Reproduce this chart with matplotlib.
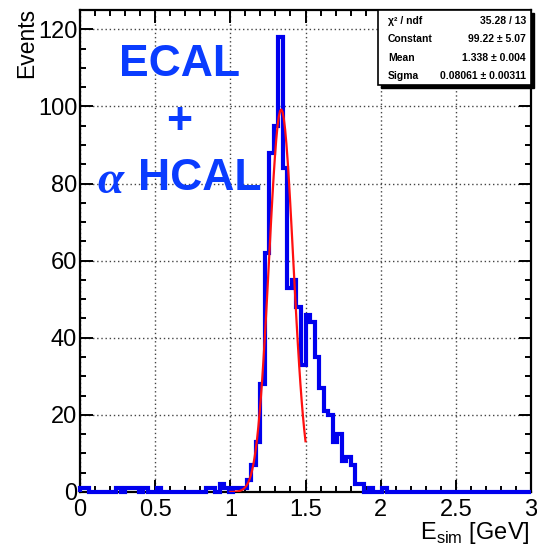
import matplotlib
matplotlib.use("Agg")
import matplotlib.pyplot as plt
import numpy as np
from matplotlib.patches import Rectangle
from matplotlib.ticker import MultipleLocator

plt.rcParams["font.family"] = ["Liberation Sans", "DejaVu Sans"]
plt.rcParams["mathtext.fontset"] = "custom"
plt.rcParams["mathtext.rm"] = "Liberation Sans"

# histogram: 100 bins from 0 to 3 GeV
x_min, x_max, n_bins = 0.0, 3.0, 100
counts = [
    1, 1, 0, 0, 0, 0, 0, 0, 1, 0,
    1, 1, 1, 0, 1, 0, 0, 1, 0, 0,
    0, 0, 0, 0, 0, 0, 0, 0, 1, 1,
    0, 2, 1, 0, 1, 1, 1, 3, 7, 13,
    28, 62, 88, 95, 118, 84, 53, 55, 48, 33,
    46, 44, 35, 27, 21, 20, 13, 15, 8, 9,
    7, 2, 2, 0, 1, 0, 0, 1, 0, 0,
    0, 0, 0, 0, 0, 0, 0, 0, 0, 0,
    0, 0, 0, 0, 0, 0, 0, 0, 0, 0,
    0, 0, 0, 0, 0, 0, 0, 0, 0, 0,
]

# gaussian fit result
fit_const, fit_mean, fit_sigma = 99.22, 1.338, 0.08061
fit_range = (1.0, 1.5)

stats_rows = [
    ("\u03c7\u00b2 / ndf", "35.28 / 13"),
    ("Constant", "99.22 \u00b1 5.07"),
    ("Mean", "1.338 \u00b1 0.004"),
    ("Sigma", "0.08061 \u00b1 0.00311"),
]

W, H = 537, 546
fig = plt.figure(figsize=(W / 100, H / 100), dpi=100)
ax = fig.add_axes([80 / W, 1 - 492 / H, 451 / W, 482 / H])

edges = np.linspace(x_min, x_max, n_bins + 1)
ax.stairs(counts, edges, color="#0000ee", lw=3.0, zorder=3, clip_on=False)

xf = np.linspace(fit_range[0], fit_range[1], 60)
yf = fit_const * np.exp(-0.5 * ((xf - fit_mean) / fit_sigma) ** 2)
ax.plot(xf, yf, color="#ff1010", lw=1.6, zorder=4)

ax.set_xlim(0, 3)
ax.set_ylim(0, 125)
ax.xaxis.set_major_locator(MultipleLocator(0.5))
ax.xaxis.set_minor_locator(MultipleLocator(0.1))
ax.yaxis.set_major_locator(MultipleLocator(20))
ax.yaxis.set_minor_locator(MultipleLocator(5))
ax.set_xticks([0, 0.5, 1, 1.5, 2, 2.5, 3], ["0", "0.5", "1", "1.5", "2", "2.5", "3"])
ax.tick_params(which="both", direction="in", top=True, right=True, width=1.4,
               labelsize=17)
ax.tick_params(which="major", length=9)
ax.tick_params(which="minor", length=4.5)
ax.tick_params(axis="y", pad=2)
ax.tick_params(axis="x", pad=5)
for s in ax.spines.values():
    s.set_linewidth(1.6)
ax.grid(True, which="major", color="#444444", ls=(0, (1, 2)), lw=1.0)

fig.text(27 / W, 1 - 8 / H, "Events", rotation=90, ha="center", va="top",
         fontsize=16.5)
fig.text(530 / W, 1 - 546 / H, r"E$_{\rm sim}$ [GeV]", ha="right",
         va="bottom", fontsize=17)

blue = "#0a3cff"
fig.text(180 / W, 1 - 64 / H, "ECAL", color=blue, fontsize=32,
         fontweight="bold", ha="center", va="center")
fig.text(179 / W, 1 - 123 / H, "+", color=blue, fontsize=32,
         fontweight="bold", ha="center", va="center")
fig.text(200 / W, 1 - 179 / H, "HCAL", color=blue, fontsize=32,
         fontweight="bold", ha="center", va="center")
fig.text(110 / W, 1 - 182 / H, "\u03b1", color=blue, fontsize=34,
         family=["Liberation Serif", "DejaVu Serif"], style="italic",
         fontweight="bold", ha="center", va="center")

# stats box with shadow
bx0, by0, bx1, by1 = 378, 10, 531, 85
fig.patches.append(Rectangle((bx0 / W + 3 / W, 1 - (by1 + 3) / H),
                             (bx1 - bx0) / W, (by1 - by0) / H,
                             transform=fig.transFigure, facecolor="black",
                             edgecolor="black", zorder=5))
fig.patches.append(Rectangle((bx0 / W, 1 - by1 / H), (bx1 - bx0) / W,
                             (by1 - by0) / H, transform=fig.transFigure,
                             facecolor="white", edgecolor="black", lw=1.2,
                             zorder=6))
for i, (name, val) in enumerate(stats_rows):
    y = 1 - (21 + 18.5 * i) / H
    fig.text(388 / W, y, name, fontsize=7.5, fontweight="bold",
             ha="left", va="center", zorder=7)
    fig.text(526 / W, y, val, fontsize=7.5, fontweight="bold",
             ha="right", va="center", zorder=7)

fig.savefig("out.png", dpi=100)
